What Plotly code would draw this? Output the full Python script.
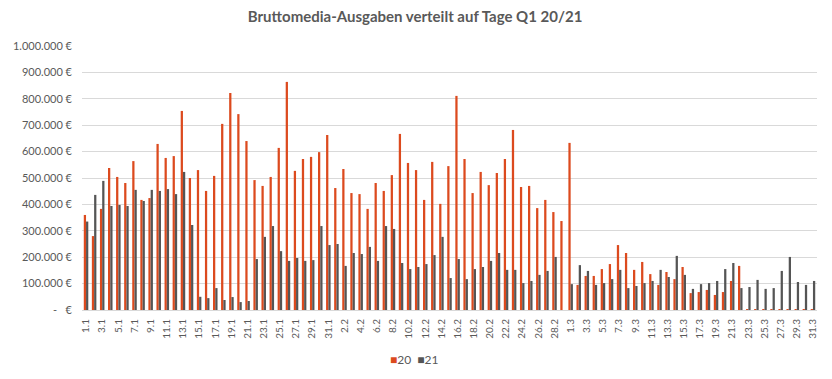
import plotly.graph_objects as go

# Categories: days of Q1 (incl. 29.2 for the leap year 2020)
days = ([f"{d}.1" for d in range(1, 32)] +
        [f"{d}.2" for d in range(1, 30)] +
        [f"{d}.3" for d in range(1, 32)])

values_20 = [
    360000, 280000, 383000, 538000, 504000, 481000, 564000, 417000, 424000, 629000,
    576000, 583000, 754000, 500000, 530000, 451000, 508000, 705000, 822000, 742000,
    640000, 492000, 470000, 504000, 614000, 864000, 527000, 572000, 580000, 598000,
    663000,
    462000, 534000, 443000, 439000, 383000, 481000, 451000, 511000, 667000, 557000,
    530000, 417000, 561000, 402000, 545000, 811000, 572000, 443000, 523000, 473000,
    519000, 572000, 682000, 466000, 470000, 386000, 417000, 371000, 337000,
    633000, 95000, 129000, 129000, 155000, 174000, 246000, 216000, 152000, 182000,
    136000, 95000, 144000, 117000, 163000, 64000, 68000, 76000, 57000, 68000,
    110000, 167000, 3000, 3000, 3000, 3000, 3000, 3000, 3000, 3000, 3000,
]

values_21 = [
    335000, 436000, 489000, 394000, 398000, 394000, 455000, 413000, 455000, 451000,
    458000, 439000, 523000, 322000, 50000, 45000, 83000, 38000, 49000, 30000,
    34000, 193000, 277000, 318000, 223000, 186000, 197000, 186000, 189000, 318000,
    246000,
    250000, 167000, 216000, 212000, 239000, 186000, 318000, 307000, 178000, 155000,
    163000, 174000, 208000, 277000, 121000, 193000, 117000, 155000, 163000, 186000,
    216000, 152000, 152000, 102000, 110000, 133000, 148000, 201000, None,
    98000, 170000, 148000, 95000, 102000, 117000, 152000, 83000, 91000, 102000,
    110000, 152000, 125000, 205000, 133000, 80000, 98000, 102000, 110000, 155000,
    178000, 83000, 87000, 114000, 80000, 83000, 148000, 201000, 106000, 95000, 110000,
]

series_names = ["20", "21"]

tick_values = [0, 100000, 200000, 300000, 400000, 500000, 600000, 700000, 800000, 900000, 1000000]
tick_labels = ["-   €", "100.000 €", "200.000 €", "300.000 €", "400.000 €", "500.000 €",
               "600.000 €", "700.000 €", "800.000 €", "900.000 €", "1.000.000 €"]

x_labels_shown = days[::2]

RED = "#DC4A1E"
DARK = "#555555"
TXT = "#595959"
FONT = "Lato, Open Sans, sans-serif"

fig = go.Figure()
fig.add_trace(go.Bar(x=days, y=values_20, name=series_names[0],
                     marker=dict(color=RED, line=dict(width=0))))
fig.add_trace(go.Bar(x=days, y=values_21, name=series_names[1],
                     marker=dict(color=DARK, line=dict(width=0))))

legend_text = (f"<span style='color:{RED}'>■</span>{series_names[0]}  "
               f"<span style='color:{DARK}'>■</span>{series_names[1]}")

fig.update_layout(
    width=824, height=371,
    paper_bgcolor="white", plot_bgcolor="white",
    margin=dict(l=74, r=15, t=38, b=69),
    barmode="group", bargap=0.44, bargroupgap=0,
    font=dict(family=FONT, color=TXT, size=11),
    title=dict(text="<b>Bruttomedia-Ausgaben verteilt auf Tage Q1 20/21</b>",
               x=0.494, xanchor="center", y=0.976, yanchor="middle",
               font=dict(family=FONT, size=15, color=TXT)),
    showlegend=False,
    annotations=[dict(text=legend_text, xref="paper", yref="paper",
                      x=0.453, xanchor="center", y=-0.189, yanchor="middle",
                      showarrow=False, font=dict(family=FONT, size=12, color=TXT))],
    xaxis=dict(type="category", categoryorder="array", categoryarray=days,
               tickmode="array", tickvals=x_labels_shown, ticktext=x_labels_shown,
               tickangle=-90, tickfont=dict(size=10, color=TXT), automargin=False,
               ticklabelstandoff=4,
               showgrid=False, showline=True, linecolor="#D9D9D9", linewidth=1,
               ticks="", range=[-0.5, len(days) - 0.5]),
    yaxis=dict(range=[0, 1000000], tickmode="array", tickvals=tick_values, ticktext=tick_labels,
               tickfont=dict(size=11, color=TXT), showgrid=True, gridcolor="#D9D9D9",
               gridwidth=1, zeroline=False, showline=False, ticks="", ticklen=0,
               ticklabelstandoff=9, automargin=False),
)

fig.write_html("out.html")
